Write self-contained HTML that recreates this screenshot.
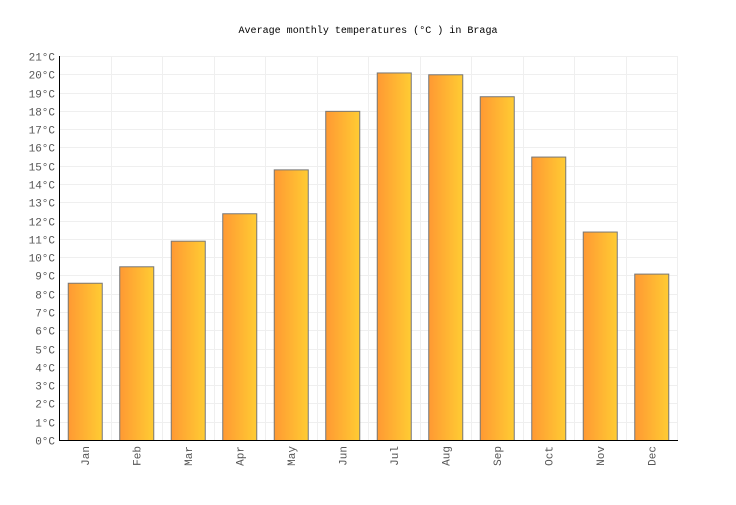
<!DOCTYPE html>
<html><head><style>body{margin:0;background:#fff}</style></head><body>
<svg width="736" height="500" xmlns="http://www.w3.org/2000/svg" font-family="Liberation Mono, DejaVu Sans Mono, monospace" font-size="11">
<defs><linearGradient id="g" x1="0" x2="1" y1="0" y2="0"><stop offset="0" stop-color="#ff9933"/><stop offset="1" stop-color="#ffcc33"/></linearGradient></defs>
<text x="368" y="33" text-anchor="middle" fill="#000" font-size="10" textLength="259" lengthAdjust="spacingAndGlyphs">Average monthly temperatures (°C ) in Braga</text>
<g id="grid" stroke="#efefef" stroke-width="1"></g>
<g id="bars"></g>
<line x1="59.5" y1="56" x2="59.5" y2="440" stroke="#000"/>
<line x1="59" y1="440.5" x2="678" y2="440.5" stroke="#000"/>
<g id="lab" fill="#555"></g>
<script>
var ns="http://www.w3.org/2000/svg",g=document.getElementById('grid'),b=document.getElementById('bars'),l=document.getElementById('lab');
function el(t,a,p,tx){var e=document.createElementNS(ns,t);for(var k in a)e.setAttribute(k,a[k]);if(tx)e.textContent=tx;p.appendChild(e);}
var y0=440,s=384/21;
for(var i=0;i<=21;i++){var y=Math.round(y0-i*s)+0.5;el('line',{x1:60,x2:678,y1:y,y2:y},g);el('text',{x:55,y:y+4,'text-anchor':'end'},l,i+'°C');}
for(var j=1;j<=12;j++){var x=Math.round(59+j*51.5)+0.5;el('line',{x1:x,x2:x,y1:56,y2:440},g);}
var v=[8.6,9.5,10.9,12.4,14.8,18.0,20.1,20.0,18.8,15.5,11.4,9.1],m=['Jan','Feb','Mar','Apr','May','Jun','Jul','Aug','Sep','Oct','Nov','Dec'];
for(var k=0;k<12;k++){var c=59+51.5*(k+0.5),h=v[k]*s;el('rect',{x:c-17+0.5,y:y0-h+0.5,width:34,height:h,fill:'url(#g)',stroke:'#777','stroke-width':1},b);
el('text',{x:0,y:0,'text-anchor':'end',transform:'translate('+(c+4)+',446) rotate(-90)'},l,m[k]);}
</script>
</svg>
</body></html>
